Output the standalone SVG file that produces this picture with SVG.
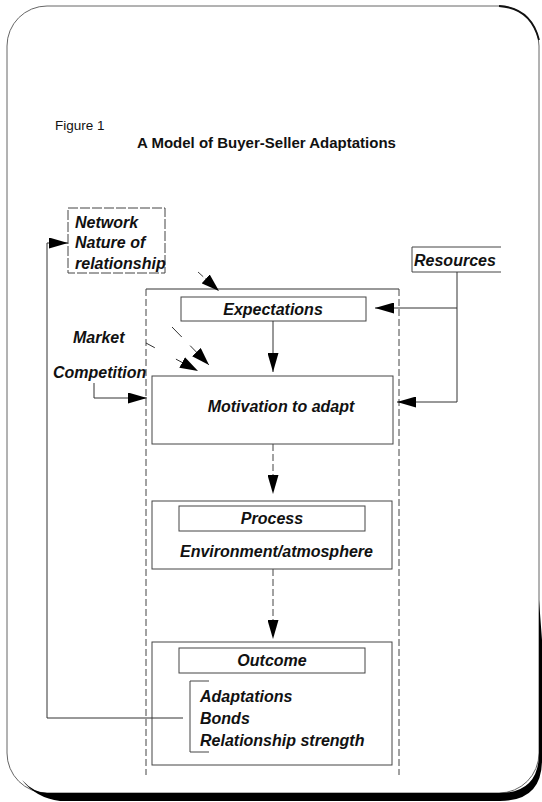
<svg xmlns="http://www.w3.org/2000/svg" width="542" height="802" viewBox="0 0 542 802">
<style>
.t{font-family:"Liberation Sans",Arial,sans-serif;font-size:16px;font-weight:bold;font-style:italic;fill:#111}
.box{fill:none;stroke:#444;stroke-width:1}
.ln{fill:none;stroke:#333;stroke-width:1}
.dl{fill:none;stroke:#444;stroke-width:1;stroke-dasharray:7 3}
</style>
<defs>
<marker id="ah" markerUnits="userSpaceOnUse" markerWidth="19" markerHeight="11" refX="19" refY="5.5" orient="auto">
<path d="M0,0 L19,5.5 L0,11 Z" fill="#000"/>
</marker>
<marker id="ahb" markerUnits="userSpaceOnUse" markerWidth="18" markerHeight="12" refX="18" refY="6" orient="auto">
<path d="M0,0 L18,6 L0,12 Z" fill="#000"/>
</marker>
</defs>
<rect width="542" height="802" fill="#fff"/>
<g id="frame">
<rect x="7" y="6" width="532" height="787" rx="40" ry="40" fill="none" stroke="#666" stroke-width="1"/>
<path d="M499,6 Q531,8 539,40" fill="none" stroke="#111" stroke-width="1.8"/>
<path d="M539,600 L542,640 L542,760 Q542,801 500,801 L60,801 Q36,798 22,780 Q34,793 47,793 L499,793 Q539,793 539,753 Z" fill="#000"/>
</g>
<g id="title">
<text x="55" y="130" font-family="Liberation Sans, Arial, sans-serif" font-size="13.5" fill="#111">Figure 1</text>
<text x="137" y="147.5" font-family="Liberation Sans, Arial, sans-serif" font-size="15" font-weight="bold" fill="#111">A Model of Buyer-Seller Adaptations</text>
</g>
<g id="column">
<path d="M146,289 H399" class="ln"/>
<path d="M146,289 V775" class="dl"/>
<path d="M399,289 V775" class="dl"/>
</g>
<g id="network">
<rect x="68" y="208" width="97" height="65" class="box" stroke-dasharray="10 2"/>
<text class="t" x="75" y="228">Network</text>
<text class="t" x="75" y="248">Nature of</text>
<text class="t" x="75" y="269">relationship</text>
</g>
<g id="resources">
<path d="M501,247 H412 V272 H501" class="box"/>
<text class="t" x="414" y="266">Resources</text>
</g>
<g id="expectations">
<rect x="181" y="297" width="185" height="24" class="box"/>
<text class="t" x="273" y="315" text-anchor="middle">Expectations</text>
</g>
<g id="market">
<text class="t" x="73" y="343">Market</text>
</g>
<g id="competition">
<text class="t" x="53" y="378">Competition</text>
</g>
<g id="motivation">
<rect x="152" y="376" width="241" height="68" class="box"/>
<text class="t" x="281" y="412" text-anchor="middle">Motivation to adapt</text>
</g>
<g id="process">
<rect x="152" y="501" width="240" height="68" class="box"/>
<rect x="179" y="506" width="186" height="25" class="box"/>
<text class="t" x="272" y="524" text-anchor="middle">Process</text>
<text class="t" x="180" y="557">Environment/atmosphere</text>
</g>
<g id="outcome">
<rect x="152" y="642" width="240" height="123" class="box"/>
<rect x="179" y="648" width="186" height="25" class="box"/>
<text class="t" x="272" y="666" text-anchor="middle">Outcome</text>
<path d="M209,681 H190 V752 H209" class="box"/>
<text class="t" x="200" y="702">Adaptations</text>
<text class="t" x="200" y="724">Bonds</text>
<text class="t" x="200" y="746">Relationship strength</text>
</g>
<g id="connectors">
<path d="M183,718 H47 V243 H68" class="ln" marker-end="url(#ah)"/>
<path d="M198,272 L219,291" class="dl" marker-end="url(#ahb)"/>
<path d="M172,327 L209,365" class="ln" stroke-dasharray="14 12" marker-end="url(#ahb)"/>
<path d="M146,343 L198,371" class="ln" stroke-dasharray="10 24" marker-end="url(#ahb)"/>
<path d="M94,383 V398 H147" class="ln" marker-end="url(#ah)"/>
<path d="M457,272 V402 H397" class="ln" marker-end="url(#ah)"/>
<path d="M457,308 H375" class="ln" marker-end="url(#ah)"/>
<path d="M273,321 V372" class="ln" marker-end="url(#ah)"/>
<path d="M273,444 V494" class="dl" marker-end="url(#ah)"/>
<path d="M273,569 V639" class="dl" marker-end="url(#ah)"/>
</g>
</svg>
